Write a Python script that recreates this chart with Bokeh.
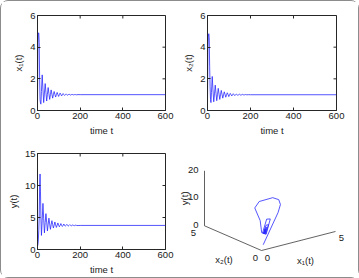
import numpy as np
from bokeh.plotting import figure
from bokeh.layouts import column, row
from bokeh.models import FixedTicker, Range1d, ColumnDataSource, LabelSet
from bokeh.core.properties import value
from bokeh.embed import file_html
from bokeh.resources import INLINE

# Simulated trajectory: time, prey densities x1, x2 and predator density y
t = [0, 2, 4, 6, 8, 10, 12, 14, 16, 18.5, 22, 25.5, 29, 32.5, 36, 39.5, 43,
     46.5, 50, 53.5, 57, 60.5, 64, 67.5, 71, 74.5, 78, 81.5, 85, 88.5, 92,
     95.5, 99, 102.5, 106, 109.5, 113, 116.5, 120, 123.5, 127, 130.5, 134,
     137.5, 141, 144.5, 148, 151.5, 155, 158.5, 162, 165.5, 169, 172.5, 176,
     179.5, 183, 190, 200, 600]
x1 = [0.5, 4.2, 4.9, 4.9, 4.3, 2.0, 0.7, 0.45, 0.4, 1.2, 2.25, 1.35, 0.5, 1.1,
      1.7, 1.15, 0.6, 1.02, 1.45, 1.07, 0.7, 1.0, 1.3, 1.04, 0.78, 1.0, 1.2,
      1.02, 0.85, 1.0, 1.14, 1.01, 0.89, 1.0, 1.1, 1.01, 0.92, 1.0, 1.07, 1.0,
      0.95, 1.0, 1.05, 1.0, 0.965, 1.0, 1.035, 1.0, 0.975, 1.0, 1.025, 1.0,
      0.985, 1.0, 1.015, 1.0, 0.99, 1.005, 1.0, 1.0]
x2 = [0.5, 4.0, 4.7, 4.85, 4.6, 2.8, 1.5, 0.7, 0.5, 1.15, 2.15, 1.3, 0.55,
      1.05, 1.6, 1.1, 0.62, 1.0, 1.4, 1.05, 0.7, 0.99, 1.27, 1.03, 0.78, 0.99,
      1.18, 1.02, 0.84, 0.99, 1.12, 1.01, 0.88, 0.99, 1.08, 1.0, 0.92, 0.99,
      1.06, 1.0, 0.94, 0.99, 1.04, 1.0, 0.96, 0.99, 1.03, 1.0, 0.97, 0.99,
      1.02, 1.0, 0.98, 0.99, 1.01, 1.0, 0.99, 1.0, 0.995, 0.995]
y = [0.5, 0.8, 1.5, 3.0, 5.0, 10.0, 11.8, 9.0, 5.0, 2.2, 4.5, 7.2, 4.8, 2.6,
     4.2, 5.6, 4.3, 2.9, 3.95, 4.9, 4.0, 3.15, 3.85, 4.5, 3.9, 3.35, 3.8, 4.3,
     3.85, 3.45, 3.78, 4.15, 3.8, 3.55, 3.77, 4.05, 3.78, 3.6, 3.76, 3.98,
     3.77, 3.65, 3.76, 3.92, 3.76, 3.68, 3.76, 3.88, 3.76, 3.7, 3.76, 3.85,
     3.76, 3.72, 3.76, 3.82, 3.76, 3.74, 3.76, 3.76]

time_ticks = [0, 200, 400, 600]
x_ticks = [0, 2, 4, 6]
y_ticks = [0, 5, 10, 15]

FONT = "Liberation Sans"
LINE = "#2a2aff"
INK = "#262626"
TXT = "#1a1a1a"


def panel(width, height, ylim, yticks, ylabel, left, right, top, bottom):
    p = figure(width=width, height=height, x_range=Range1d(0, 600),
               y_range=Range1d(*ylim), output_backend="svg", title=None,
               toolbar_location=None, min_border_left=left,
               min_border_right=right, min_border_top=top,
               min_border_bottom=bottom)
    p.frame_align = False
    p.grid.visible = False
    p.outline_line_color = INK
    p.outline_line_width = 1
    p.xaxis.ticker = FixedTicker(ticks=time_ticks)
    p.yaxis.ticker = FixedTicker(ticks=yticks)
    p.xaxis.axis_label = "time t"
    p.yaxis.axis_label = ylabel
    for ax in p.xaxis + p.yaxis:
        ax.major_tick_in = 3
        ax.major_tick_out = 0
        ax.minor_tick_line_color = None
        ax.axis_line_color = INK
        ax.major_tick_line_color = INK
        ax.major_label_text_font = FONT
        ax.major_label_text_font_size = "9.5px"
        ax.major_label_text_color = TXT
        ax.major_label_standoff = 2
        ax.axis_label_text_font = FONT
        ax.axis_label_text_font_size = "9.5px"
        ax.axis_label_text_font_style = "normal"
        ax.axis_label_text_color = TXT
        ax.axis_label_standoff = 3
    # inward ticks on the top and right edges of the box
    p.ray(x=time_ticks, y=ylim[1], length=3, length_units="screen",
          angle=-np.pi / 2, line_color=INK, line_width=1)
    p.ray(x=600, y=yticks, length=3, length_units="screen",
          angle=np.pi, line_color=INK, line_width=1)
    return p


# outer frame has a 1px border, so panels are 1px smaller on the outer edges
p1 = panel(179, 137, (0, 6), x_ticks, "x\u2081(t)", 36, 15, 14, 24)
p1.line(t, x1, line_color=LINE, line_width=0.8)

p2 = panel(178, 137, (0, 6), x_ticks, "x\u2082(t)", 26, 22, 14, 24)
p2.line(t, x2, line_color=LINE, line_width=0.8)

p3 = panel(179, 139, (0, 15), y_ticks, "y(t)", 36, 15, 15, 25)
p3.line(t, y, line_color=LINE, line_width=0.8)

# 3-D phase portrait drawn through an orthographic projection
AZ = np.radians(37.6)
EL = np.radians(19.5)
L = 93.4
Z_ASPECT = 0.625
lim1, lim2, limy = 5.0, 5.0, 20.0


def project(a, b, c):
    u = np.asarray(a, float) / lim1
    v = np.asarray(b, float) / lim2
    w = np.asarray(c, float) / limy
    sx = L * (np.cos(AZ) * u - np.sin(AZ) * v)
    sy = L * np.sin(EL) * (np.sin(AZ) * u + np.cos(AZ) * v) + L * np.cos(EL) * Z_ASPECT * w
    return sx, sy


# frame fills the whole panel; one data unit is one pixel
p4 = figure(width=178, height=139, x_range=Range1d(-81, 97),
            y_range=Range1d(-27, 112), output_backend="svg", title=None,
            toolbar_location=None, min_border_left=0, min_border_right=0,
            min_border_top=0, min_border_bottom=0)
p4.frame_align = False
p4.xaxis.visible = False
p4.yaxis.visible = False
p4.grid.visible = False
p4.outline_line_color = None

# axis lines
ax_pts = [((0, 0, 0), (lim1, 0, 0)), ((0, 0, 0), (0, lim2, 0)),
          ((0, lim2, 0), (0, lim2, limy))]
for a0, a1 in ax_pts:
    sx, sy = project([a0[0], a1[0]], [a0[1], a1[1]], [a0[2], a1[2]])
    p4.line(sx, sy, line_color="#3a3a3a", line_width=0.8)

sx, sy = project(x1, x2, y)
p4.line(sx, sy, line_color=LINE, line_width=0.8)

# tick and axis labels placed next to projected anchor points (offsets in px)
anchors = [
    ((0, 0, 0), "0", 6, -7, "center", 0.0),
    ((lim1, 0, 0), "5", 6, -7, "center", 0.0),
    ((0, 0, 0), "0", -6, -7, "center", 0.0),
    ((0, lim2, 0), "5", -11, -7, "center", 0.0),
    ((0, lim2, 0), "0", -6, 1, "right", 0.0),
    ((0, lim2, 10), "10", -6, 1, "right", 0.0),
    ((0, lim2, 20), "20", -6, 1, "right", 0.0),
    ((lim1 / 2, 0, 0), "x\u2081(t)", 7, -20, "center", 0.0),
    ((0, lim2 / 2, 0), "x\u2082(t)", -9, -21, "center", 0.0),
    ((0, lim2, limy / 2), "y(t)", -20, 0, "center", np.pi / 2),
]
for align in ("center", "right"):
    rows = [a for a in anchors if a[4] == align]
    ax_, ay_ = project([r[0][0] for r in rows], [r[0][1] for r in rows],
                       [r[0][2] for r in rows])
    src = ColumnDataSource(dict(
        x=ax_ + np.array([r[2] for r in rows]),
        y=ay_ + np.array([r[3] for r in rows]),
        text=[r[1] for r in rows],
        angle=[r[5] for r in rows]))
    p4.add_layout(LabelSet(x="x", y="y", text="text", angle="angle",
                           source=src, text_font=value(FONT),
                           text_font_size=value("9.5px"),
                           text_color=TXT, text_align=align,
                           text_baseline="middle"))

layout = column(row(p1, p2, spacing=0), row(p3, p4, spacing=0), spacing=0,
                styles={"border": "1px solid #8c8c8c", "border-radius": "8px"})

open("out.html", "w").write(file_html(layout, INLINE))
